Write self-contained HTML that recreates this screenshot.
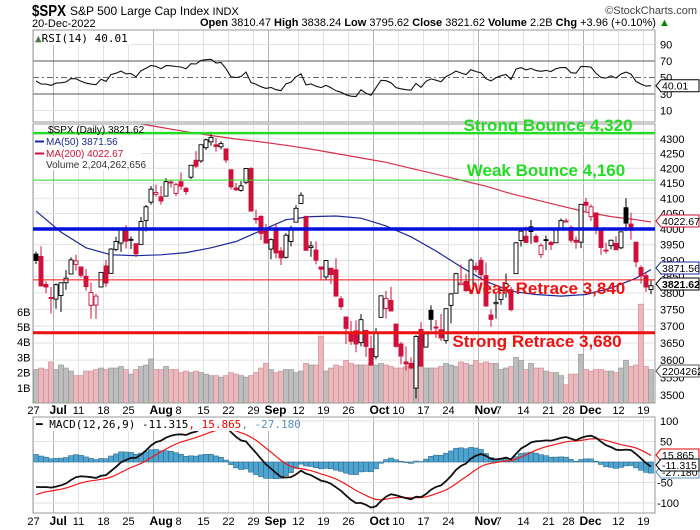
<!DOCTYPE html>
<html><head><meta charset="utf-8">
<style>
body{margin:0;background:#fff;}
svg{display:block;font-family:"Liberation Sans",sans-serif;}
</style></head>
<body>
<svg id="c" width="700" height="530" viewBox="0 0 700 530">
<g>
<text x="32" y="16" font-size="16" font-weight="bold" textLength="34" lengthAdjust="spacingAndGlyphs">$SPX</text>
<text x="70" y="15" font-size="12">S&amp;P 500 Large Cap Index <tspan font-size="11">INDX</tspan></text>
<text x="697" y="14" font-size="11" text-anchor="end" fill="#444">©StockCharts.com</text>
<text x="32" y="27" font-size="11">20-Dec-2022</text>
<text x="485" y="26" font-size="11" text-anchor="end"><tspan font-weight="bold">Open</tspan> 3810.47 <tspan font-weight="bold">High</tspan> 3838.24 <tspan font-weight="bold">Low</tspan> 3795.62 <tspan font-weight="bold">Close</tspan> 3821.62</text>
<text x="488" y="26" font-size="11"><tspan font-weight="bold">Volume</tspan> 2.2B <tspan font-weight="bold">Chg</tspan> +3.96 (+0.10%) <tspan fill="#080">▲</tspan></text>
</g>
<g id="grid"></g>
<g id="marks"></g>
<g id="over"></g>
</svg>
<script>
const dates=["6/27","6/28","6/29","6/30","7/1","7/5","7/6","7/7","7/8","7/11","7/12","7/13","7/14","7/15","7/18","7/19","7/20","7/21","7/22","7/25","7/26","7/27","7/28","7/29","8/1","8/2","8/3","8/4","8/5","8/8","8/9","8/10","8/11","8/12","8/15","8/16","8/17","8/18","8/19","8/22","8/23","8/24","8/25","8/26","8/29","8/30","8/31","9/1","9/2","9/6","9/7","9/8","9/9","9/12","9/13","9/14","9/15","9/16","9/19","9/20","9/21","9/22","9/23","9/26","9/27","9/28","9/29","9/30","10/3","10/4","10/5","10/6","10/7","10/10","10/11","10/12","10/13","10/14","10/17","10/18","10/19","10/20","10/21","10/24","10/25","10/26","10/27","10/28","10/31","11/1","11/2","11/3","11/4","11/7","11/8","11/9","11/10","11/11","11/14","11/15","11/16","11/17","11/18","11/21","11/22","11/23","11/25","11/28","11/29","11/30","12/1","12/2","12/5","12/6","12/7","12/8","12/9","12/12","12/13","12/14","12/15","12/16","12/19","12/20"];
const opens=[3920,3913,3826,3786,3781,3792,3831,3858,3888,3880,3851,3762,3763,3818,3883,3860,3935,3955,4000,3965,3953,3951,4027,4087,4113,4105,4107,4154,4116,4155,4133,4170,4227,4225,4270,4290,4280,4273,4266,4195,4134,4126,4153,4199,4034,4041,4000,3936,3994,3930,3910,3960,4022,4083,4041,3941,3933,3880,3849,3876,3871,3782,3727,3682,3686,3651,3687,3634,3610,3726,3753,3777,3706,3647,3595,3591,3520,3690,3638,3747,3697,3689,3657,3762,3799,3825,3835,3808,3882,3901,3853,3733,3767,3780,3817,3810,3859,3963,3977,4007,3976,3919,3966,3957,3956,4000,4023,4005,3964,3958,4087,4040,4052,3996,3933,3947,3954,3940,4069,4016,3958,3878,3853,3810];
const highs=[3928,3945,3836,3818,3829,3832,3870,3910,3918,3880,3873,3832,3796,3863,3902,3939,3975,3999,4012,3976,3953,4039,4078,4140,4145,4140,4167,4161,4151,4186,4137,4211,4258,4280,4301,4325,4303,4292,4266,4195,4150,4157,4200,4204,4063,4044,4016,3970,4018,3942,3987,4010,4077,4120,4041,3961,3961,3880,3900,3876,3907,3790,3727,3715,3717,3736,3687,3672,3694,3791,3806,3819,3706,3653,3640,3608,3673,3712,3679,3762,3718,3736,3753,3799,3862,3887,3859,3906,3894,3911,3894,3750,3796,3813,3859,3818,3958,4002,4008,4029,3983,3954,3979,3962,4004,4034,4034,4012,3976,4080,4101,4080,4052,4001,3957,3966,3977,3991,4100,4053,3958,3885,3864,3838];
const lows=[3889,3820,3799,3738,3752,3742,3809,3858,3869,3847,3807,3722,3721,3817,3818,3860,3929,3927,3938,3936,3911,3951,3992,4079,4105,4079,4107,4135,4107,4128,4112,4164,4201,4218,4262,4277,4256,4264,4218,4129,4124,4122,4147,4057,4017,3965,3954,3904,3907,3886,3906,3944,4022,4083,3933,3912,3888,3838,3838,3827,3789,3749,3647,3644,3623,3640,3610,3584,3603,3726,3722,3744,3636,3588,3570,3575,3491,3583,3638,3687,3665,3656,3648,3708,3799,3825,3803,3805,3863,3843,3758,3698,3722,3764,3786,3744,3859,3944,3957,3953,3955,3907,3933,3933,3956,3998,4020,3956,3937,3939,4058,4026,3984,3918,3922,3935,3933,3936,3993,3966,3879,3828,3803,3796];
const closes=[3900,3821,3818,3785,3825,3831,3845,3902,3899,3854,3819,3801,3790,3863,3830,3936,3960,3999,3961,3967,3921,4024,4072,4130,4119,4091,4155,4152,4145,4140,4122,4210,4207,4280,4297,4305,4274,4284,4228,4138,4128,4141,4199,4058,4030,3986,3955,3966,3924,3908,3980,3999,4067,4110,3932,3946,3901,3873,3900,3856,3790,3758,3693,3655,3647,3719,3640,3586,3678,3791,3783,3745,3640,3612,3589,3577,3669,3583,3677,3720,3695,3665,3752,3797,3859,3830,3807,3901,3872,3856,3760,3720,3771,3807,3828,3749,3956,3993,3957,3992,3959,3947,3965,3950,4003,4027,4026,3964,3958,4080,4077,4072,3999,3941,3933,3964,3934,3991,4019,3996,3896,3852,3818,3822];
const volumes=[2.2,2.3,2.2,2.7,2.2,2.5,2.3,2.1,1.8,1.8,2.1,2.1,2.2,2.3,2.2,2.3,2.3,2.4,2.2,1.9,2.2,2.4,2.5,2.9,2.2,2.2,2.4,2.2,2.2,2.0,2.1,2.0,2.1,2.0,1.9,1.8,1.8,1.7,1.8,2.0,1.9,1.8,1.7,1.8,2.0,2.3,2.6,2.2,2.0,2.1,2.2,2.2,2.0,2.1,2.6,2.5,2.5,4.4,2.1,2.3,2.5,2.4,2.8,2.6,2.5,2.5,2.5,2.6,2.5,2.6,2.5,2.4,2.3,2.3,2.4,2.2,2.8,2.4,2.3,2.3,2.3,2.4,2.6,2.5,2.4,2.7,2.6,2.5,2.8,2.6,2.7,2.6,2.6,2.2,2.3,2.4,3.0,2.8,2.2,2.6,2.3,2.3,2.1,2.0,2.0,1.8,1.2,1.9,1.9,3.2,2.2,2.1,2.2,2.2,2.1,2.1,2.0,2.3,2.8,2.4,2.5,6.5,2.4,2.2];
const maWeekIdx=[0,5,10,15,20,25,30,35,40,45,50,55,60,65,70,75,80,85,90,95,100,105,110,115,120,123];
const ma50=[4058,3990,3940,3918,3915,3918,3925,3940,3960,3995,4030,4040,4042,4035,4010,3975,3930,3880,3835,3805,3795,3790,3795,3815,3845,3871.56];
const ma200=[4420,4400,4385,4370,4355,4340,4325,4312,4300,4290,4278,4265,4250,4235,4220,4200,4180,4160,4140,4115,4095,4075,4055,4040,4030,4022.67];
const priceTicks=[3500,3550,3600,3650,3700,3750,3800,3850,3900,3950,4000,4050,4100,4150,4200,4250,4300];
const volTicks=[1,2,3,4,5,6];
const rsiTicks=[10,30,50,70,90];
const macdTicks=[100,50,-50,-100];
const levels=[4320,4160,4000,3840,3680];
const levelLabels=["Strong Bounce 4,320","Weak Bounce 4,160","","Weak Retrace 3,840","Strong Retrace 3,680"];

const NS="http://www.w3.org/2000/svg";
const L=33,R=655,n=closes.length;
const xs=i=>36+i*(615/(n-1));
const yP=p=>229-1245*Math.log(p/4000);
const yV=v=>403-v*15.2;
const yR=r=>94-(r-30)*0.825;
const yM=m=>462-m*0.41;
function mk(tag,attrs,parent){const e=document.createElementNS(NS,tag);for(const k in attrs)e.setAttribute(k,attrs[k]);parent.appendChild(e);return e;}
const G=document.getElementById('grid'),M=document.getElementById('marks'),O=document.getElementById('over');

const defs=mk('defs',{},G);
const cp=mk('clipPath',{id:'pc'},defs);mk('rect',{x:L,y:124,width:R-L,height:279},cp);
const cr=mk('clipPath',{id:'rc'},defs);mk('rect',{x:L,y:30,width:R-L,height:92},cr);
const cm=mk('clipPath',{id:'mc'},defs);mk('rect',{x:L,y:417,width:R-L,height:96},cm);

const panels=[[30,122,'rsi-panel'],[124,403,'price-panel'],[417,513,'macd-panel']];

const md=dates.map(d=>d.split('/').map(Number));
const monNames=["","Jan","Feb","Mar","Apr","May","Jun","Jul","Aug","Sep","Oct","Nov","Dec"];
const isNewMonth=i=>i>0&&i<n&&md[i-1][0]!==md[i][0];
let lastMonthIdx=-99;
for(let i=0;i<n;i++){
  const [m,d]=md[i];
  const newMonth=isNewMonth(i);
  const isMon=new Date(2022,m-1,d).getDay()===1;
  const x=xs(i)-2.5;
  if(newMonth){
    lastMonthIdx=i;
    for(const [t,b] of panels){const ln=mk('line',{x1:x,x2:x,y1:t,y2:b,stroke:'#b4b4b4','stroke-width':1},G);

}
    for(const yy of [414,525]){const t=mk('text',{x:x-4,y:yy,'font-size':12,'font-weight':'bold'},G);t.textContent=monNames[m];

}
  } else if(isMon){
    for(const [t,b] of panels){const ln=mk('line',{x1:x,x2:x,y1:t,y2:b,stroke:'#e2e2e2','stroke-width':1},G);

}
    const soonMonth=isNewMonth(i+1)||isNewMonth(i+2);
    if(i-lastMonthIdx>=3&&!soonMonth){
      for(const yy of [414,525]){const t=mk('text',{x:x,y:yy,'font-size':11,'text-anchor':'middle'},G);t.textContent=String(d);

}
    }
  }
}
for(const p of priceTicks){
  const y=yP(p);
  const ln=mk('line',{x1:L,x2:R,y1:y,y2:y,stroke:'#e2e2e2'},G);
  
  
  const t=mk('text',{x:660,y:y+4,'font-size':11},G);t.textContent=p;
  
  
}
for(const v of volTicks){
  const t=mk('text',{x:17,y:yV(v)+4,'font-size':11},G);t.textContent=v+'B';
  
  
}
for(const r of rsiTicks){
  const y=yR(r);
  const strong=(r===30||r===70);
  const ln=mk('line',{x1:L,x2:R,y1:y,y2:y,stroke:strong?'#555':(r===50?'#666':'#e2e2e2'),'stroke-dasharray':r===50?'6,3,2,3':'none'},G);
  
  
  const t=mk('text',{x:660,y:y+4,'font-size':11},G);t.textContent=r;
  
  
}
for(const m of macdTicks.concat([0])){
  const y=yM(m);
  const ln=mk('line',{x1:L,x2:R,y1:y,y2:y,stroke:'#e2e2e2'},G);
  
  
  if(m!==0){const t=mk('text',{x:m<0?657:660,y:y+4,'font-size':11},G);t.textContent=m;
  
  }
}
for(const [t,b,nm] of panels){
  const r=mk('rect',{x:L,y:t,width:R-L,height:b-t,fill:'none',stroke:'#999'},O);
  
  
}

const pg=mk('g',{'clip-path':'url(#pc)'},M);
for(let i=0;i<n;i++){
  const down=i>0&&closes[i]<closes[i-1];
  const x=xs(i)-2.5;
  const r=mk('rect',{x:x,y:yV(volumes[i]),width:5,height:403-yV(volumes[i]),fill:down?'#e9b9bd':'#bdbdbd',stroke:down?'#d48e95':'#9a9a9a','stroke-width':0.7},pg);
  
  
}
const lvlColor=['#22dd22','#22dd22','#0010dd','#ee1111','#ee1111'];
const lvlW=[2.5,1,3.5,1,3];
levels.forEach((p,k)=>{
  const ln=mk('line',{x1:L,x2:R,y1:yP(p),y2:yP(p),stroke:lvlColor[k],'stroke-width':lvlW[k]},O);
  
  
});
function maPath(arr,col,nm){
  const d=arr.map((v,k)=>(k?'L':'M')+xs(maWeekIdx[k]).toFixed(1)+','+yP(v).toFixed(1)).join(' ');
  const p=mk('path',{d:d,fill:'none',stroke:col,'stroke-width':1.2},pg);
  
  
}
maPath(ma200,'#d8304a','ma200-line');
maPath(ma50,'#1a2a9a','ma50-line');
for(let i=0;i<n;i++){
  const down=i>0&&closes[i]<closes[i-1];
  const col=down?'#d0103a':'#000';
  const x=xs(i);
  const g=mk('g',{},pg);
  
  
  mk('line',{x1:x,x2:x,y1:yP(highs[i]),y2:yP(lows[i]),stroke:col,'stroke-width':1},g);
  const top=yP(Math.max(opens[i],closes[i])),bot=yP(Math.min(opens[i],closes[i]));
  const hollow=closes[i]>=opens[i];
  mk('rect',{x:x-2,y:top,width:4,height:Math.max(bot-top,1),fill:hollow?'#fff':col,stroke:col,'stroke-width':0.9},g);
}
const lblPos=[[548,131],[546,176],null,[546,294],[537,347]];
levelLabels.forEach((s,k)=>{
  if(!s)return;
  const t=mk('text',{x:lblPos[k][0],y:lblPos[k][1],'font-size':17,'font-weight':'bold','text-anchor':'middle',fill:k<2?'#22dd22':'#ee1111'},O);
  t.textContent=s;
  
  
});

let ag=35,al=40;const rsi=[];
for(let i=0;i<n;i++){
  const ch=i?closes[i]-closes[i-1]:-20;
  ag=(ag*13+Math.max(ch,0))/14;al=(al*13+Math.max(-ch,0))/14;
  rsi.push(100-100/(1+ag/al));
}
const rp=mk('path',{d:rsi.map((v,i)=>(i?'L':'M')+xs(i).toFixed(1)+','+yR(v).toFixed(1)).join(' '),fill:'none',stroke:'#111','stroke-width':1.1,'clip-path':'url(#rc)'},M);



let e12=3876,e26=3944,sg=-84;const macd=[],sig=[];
for(let i=0;i<n;i++){
  e12+= (closes[i]-e12)*2/13; e26+=(closes[i]-e26)*2/27;
  const m=e12-e26; sg+=(m-sg)*2/10; macd.push(m); sig.push(sg);
}
const mg=mk('g',{'clip-path':'url(#mc)'},M);
for(let i=0;i<n;i++){
  const h=macd[i]-sig[i];const y0=yM(0),y1=yM(h);
  const r=mk('rect',{x:xs(i)-2.5,y:Math.min(y0,y1),width:5,height:Math.abs(y1-y0),fill:'#4ea3cf',stroke:'#2f6f93','stroke-width':0.6},mg);
  
  
}
const sp=mk('path',{d:sig.map((v,i)=>(i?'L':'M')+xs(i).toFixed(1)+','+yM(v).toFixed(1)).join(' '),fill:'none',stroke:'#f01818','stroke-width':1.2},mg);


const mp=mk('path',{d:macd.map((v,i)=>(i?'L':'M')+xs(i).toFixed(1)+','+yM(v).toFixed(1)).join(' '),fill:'none',stroke:'#111','stroke-width':1.8},mg);



function legBox(x,y,w,h,nm){const r=mk('rect',{x:x,y:y,width:w,height:h,fill:'#fff',opacity:0.92},O);}
legBox(34,31,96,14,'rsi-legend');
const rt=mk('text',{x:35,y:42,'font-size':11,'font-family':'DejaVu Sans Mono, monospace'},O);rt.innerHTML='<tspan fill="#4a7a4a">▲</tspan>RSI(14) 40.01';

legBox(34,136,107,34,'price-legend');
const legRows=[['$SPX (Daily) 3821.62','#000',133],['MA(50) 3871.56','#1a2a9a',145],['MA(200) 4022.67','#d0103a',157],['Volume 2,204,262,656','#333',168]];
legRows.forEach(([s,c,y],k)=>{
  const t=mk('text',{x:k===0?48:46,y:y,'font-size':10,fill:c},O);t.textContent=s;
  
  if(k===1||k===2)mk('line',{x1:35,x2:44,y1:y-3.5,y2:y-3.5,stroke:c,'stroke-width':2},O);
});
legBox(34,418,245,13,'macd-legend');
const mt=mk('text',{x:36,y:428,'font-size':11,'font-family':'DejaVu Sans Mono, monospace'},O);
mt.innerHTML='<tspan font-weight="bold">━</tspan> MACD(12,26,9) -11.315<tspan fill="#e00">, 15.865</tspan><tspan fill="#5b8fc0">, -27.180</tspan>';


function tag(y,txt,col,bold,nm){
  const g=mk('g',{},O);
  
  
  mk('path',{d:`M656,${y} L661,${y-6} L699,${y-6} L699,${y+6} L661,${y+6} Z`,fill:'#fff',stroke:col,'stroke-width':1},g);
  const t=mk('text',{x:662,y:y+4,'font-size':10.5,fill:'#000','font-weight':bold?'bold':'normal'},g);t.textContent=txt;
}
tag(yR(rsi[n-1]),'40.01','#000',false,'rsi-value-tag');
tag(221,'4022.67','#d0103a',false,'ma200-value-tag');
tag(268,'3871.56','#1a2a9a',false,'ma50-value-tag');
tag(371,'2204262','#555',false,'volume-value-tag');
tag(284,'3821.62','#000',true,'close-value-tag');
tag(472,'-27.180','#5b8fc0',false,'histogram-value-tag');
tag(455,'15.865','#e00',false,'signal-value-tag');
tag(465,'-11.315','#000',false,'macd-value-tag');
</script>
</body></html>
